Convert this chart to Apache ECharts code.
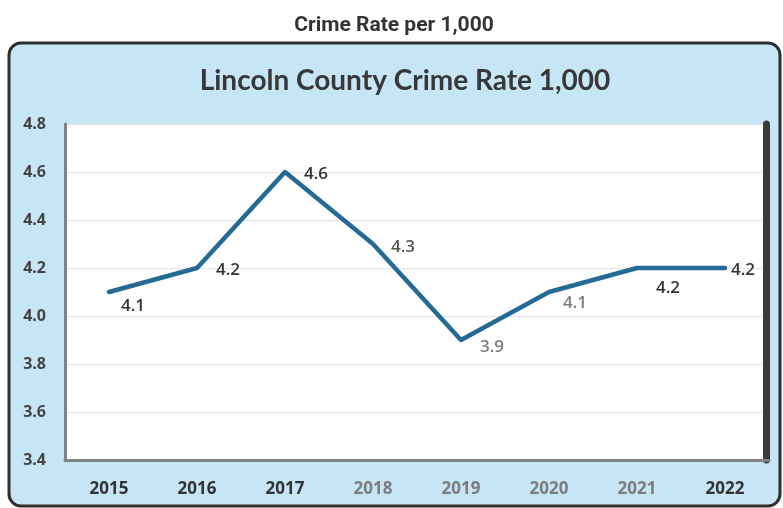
<!DOCTYPE html>
<html>
<head>
<meta charset="utf-8">
<script src="https://cdn.jsdelivr.net/npm/echarts@6/dist/echarts.min.js"></script>
<style>
  html, body { margin: 0; padding: 0; background: #ffffff; }
  #chart { width: 783px; height: 508px; }
</style>
</head>
<body>
<div id="chart"></div>
<script>
// Yearly crime rate per 1,000 residents
const years = ['2015', '2016', '2017', '2018', '2019', '2020', '2021', '2022'];
const crimeRate = [4.1, 4.2, 4.6, 4.3, 3.9, 4.1, 4.2, 4.2];
const yTicks = { min: 3.4, max: 4.8, step: 0.2 };

// Text tones for the year labels and value labels
const yearColors = ['#333', '#333', '#333', '#7d7d7d', '#7d7d7d', '#7d7d7d', '#7d7d7d', '#333'];
const valueColors = ['#333', '#333', '#333', '#555', '#7d7d7d', '#7d7d7d', '#333', '#333'];
// Where each value label sits relative to its point
const labelOffsets = [[24, 14], [31, 2], [31, 2], [30, 3], [31, 7], [26, 11], [31, 20], [18, 2]];

const chart = echarts.init(document.getElementById('chart'), null, { renderer: 'canvas' });

const option = {
  backgroundColor: '#ffffff',
  animation: false,
  graphic: [{
    type: 'rect',
    z: -10,
    shape: { x: 9, y: 43, width: 771, height: 463, r: 12 },
    style: { fill: '#c6e5f5', stroke: '#2e2e2e', lineWidth: 3 }
  }],
  title: [{
    text: 'Crime Rate per 1,000',
    left: 389,
    textAlign: 'center',
    top: 10,
    textStyle: {
      fontFamily: 'Roboto',
      fontWeight: 'bold',
      fontSize: 21,
      color: '#333'
    }
  }, {
    text: 'Lincoln County Crime Rate 1,000',
    left: 400,
    textAlign: 'center',
    top: 62,
    textStyle: {
      fontFamily: 'Lato',
      fontWeight: 'bold',
      fontSize: 28,
      color: '#383838'
    }
  }],
  grid: {
    left: 65, right: 14, top: 124, bottom: 48,
    show: true, backgroundColor: '#ffffff', borderWidth: 0
  },
  xAxis: {
    type: 'category',
    boundaryGap: true,
    data: years.map((y, i) => ({ value: y, textStyle: { color: yearColors[i] } })),
    axisLine: { lineStyle: { color: '#7f827f', width: 3 } },
    axisTick: { show: false },
    axisLabel: {
      margin: 21,
      fontFamily: 'Open Sans',
      fontWeight: 'bold',
      fontSize: 17
    }
  },
  yAxis: [{
    type: 'value',
    min: yTicks.min,
    max: yTicks.max,
    interval: yTicks.step,
    axisLine: { show: true, lineStyle: { color: '#7f827f', width: 3 } },
    axisTick: { show: false },
    splitLine: { lineStyle: { color: '#e2e2e2', width: 1 } },
    axisLabel: {
      margin: 19,
      fontFamily: 'Open Sans',
      fontWeight: 'bold',
      fontSize: 16,
      color: '#444',
      formatter: v => v.toFixed(1)
    }
  }, {
    type: 'value',
    position: 'right',
    min: yTicks.min,
    max: yTicks.max,
    offset: -3,
    axisLine: { show: true, lineStyle: { color: '#3a3a3a', width: 7 } },
    axisTick: { show: false },
    axisLabel: { show: false },
    splitLine: { show: false }
  }],
  series: [{
    type: 'line',
    data: crimeRate.map((v, i) => ({
      value: v,
      label: { offset: labelOffsets[i], color: valueColors[i] }
    })),
    symbol: 'circle',
    symbolSize: 1,
    itemStyle: { color: '#246a94' },
    lineStyle: { color: '#246a94', width: 4.5, join: 'round', cap: 'round' },
    label: {
      show: true,
      position: 'inside',
      fontFamily: 'Open Sans',
      fontWeight: 600,
      fontSize: 17,
      formatter: p => p.value.toFixed(1)
    }
  }]
};

chart.setOption(option);
</script>
</body>
</html>
